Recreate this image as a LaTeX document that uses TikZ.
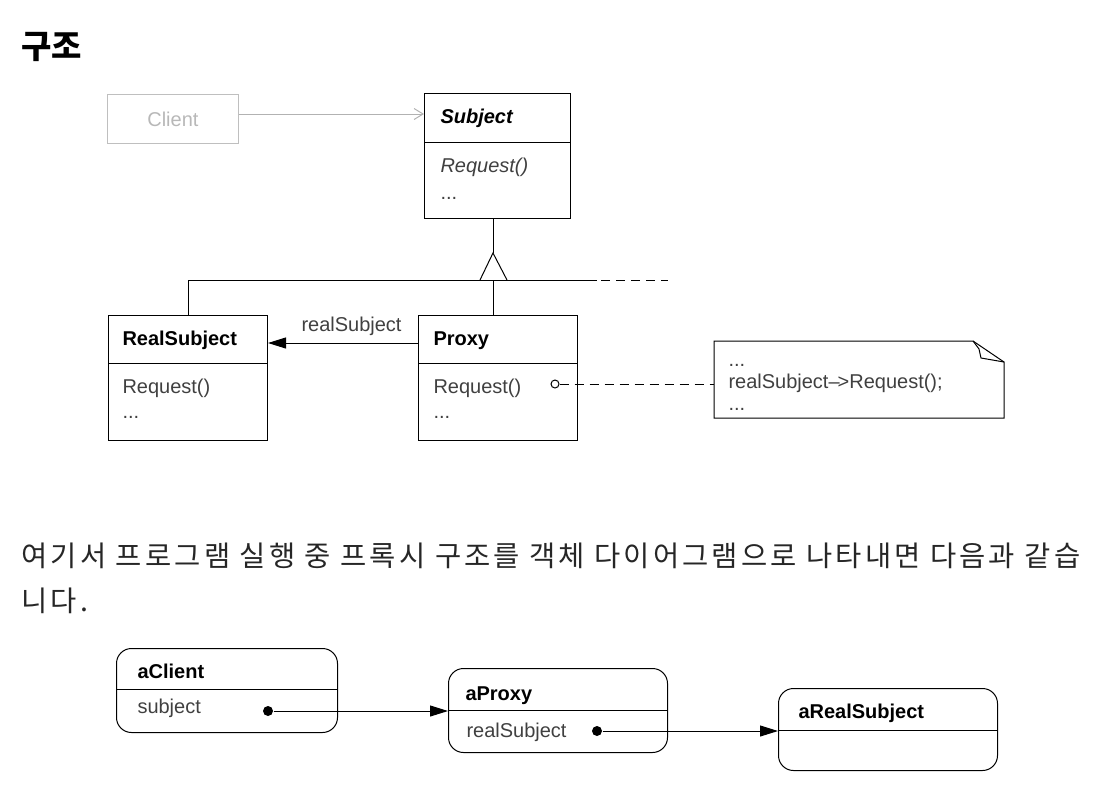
\documentclass[tikz,border=0pt]{standalone}
\usepackage{fontspec}
\setmainfont{Liberation Sans}
\newfontfamily\krfont{Noto Sans CJK KR}
\newfontfamily\krspaced[LetterSpace=11]{Noto Sans CJK KR}
\usepackage{tikz}
\usetikzlibrary{arrows.meta}

\tikzset{
  classbox/.style={draw, line width=1pt, inner sep=0pt, anchor=north west},
  objbox/.style={draw, line width=1pt, rounded corners=15pt, inner sep=0pt, anchor=north west},
  txt/.style={anchor=base west, inner sep=0pt, font=\fontsize{20}{24}\selectfont, text=black!75},
  btxt/.style={txt, font=\fontsize{20}{24}\selectfont\bfseries, text=black},
  krtxt/.style={anchor=base west, inner sep=0pt, font=\krspaced\fontsize{28.5}{34}\selectfont, text=black!85},
  dot/.style={circle, fill=black, inner sep=0pt, minimum size=10pt},
  navarrow/.style={-{Triangle[length=18pt,width=11pt]}},
}

\begin{document}
\begin{tikzpicture}[x=1pt, y=-1pt, line width=1pt]
\useasboundingbox (0,0) rectangle (1112,804);
% Title
\node[anchor=base west, inner sep=0pt, font=\krfont\bfseries\fontsize{33}{38}\selectfont] (title) at (21,58) {구조};
% Class diagram boxes
\node[classbox, draw=black!25, line width=0.8pt, minimum width=131pt, minimum height=49pt] (client) at (107,94) {};
\node[classbox, minimum width=146pt, minimum height=125pt] (subject) at (424,93) {};
\node[classbox, minimum width=159pt, minimum height=125pt] (realsubject) at (108,315) {};
\node[classbox, minimum width=159pt, minimum height=125pt] (proxy) at (418,315) {};
\draw (subject.west |- 0,142) -- (subject.east |- 0,142);
\draw (realsubject.west |- 0,363) -- (realsubject.east |- 0,363);
\draw (proxy.west |- 0,363) -- (proxy.east |- 0,363);
% Class texts
\node[anchor=base, inner sep=0pt, font=\fontsize{20}{24}\selectfont, text=black!28] (clientname) at (client.center |- 0,126) {Client};
\node[btxt, font=\fontsize{20}{24}\selectfont\bfseries\itshape] (subjectname) at (440,123) {Subject};
\node[txt, font=\fontsize{20}{24}\selectfont\itshape] (subjectop) at (440,172) {Request()};
\node[txt] (subjectmore) at (440,199) {...};
\node[btxt] (realname) at (122,345) {RealSubject};
\node[txt] (realop) at (122,393) {Request()};
\node[txt] (realmore) at (122,418) {...};
\node[btxt] (proxyname) at (433,345) {Proxy};
\node[txt] (proxyop) at (433,393) {Request()};
\node[txt] (proxymore) at (433,418) {...};
% Client uses Subject
\draw[black!30, -{Straight Barb[length=9pt,width=11pt]}] (client.east |- 0,114) -- (subject.west |- 0,114);
% Inheritance
\coordinate (apex) at (493,253);
\coordinate (joint) at (493,280);
\draw (apex |- subject.south) -- (apex);
\draw (480,280) -- (apex) -- (507,280);
\draw (realsubject.north |- joint) -- (597,280);
\draw[dashed, dash pattern=on 9pt off 6pt] (601,280) -- (668,280);
\draw (realsubject.north |- joint) -- (realsubject.north);
\draw (joint) -- (joint |- proxy.north);
% Association
\draw[navarrow] (proxy.west |- 0,343) -- (realsubject.east |- 0,343);
\node[txt] (assoclabel) at (301,331) {realSubject};
% Note
\node[inner sep=0pt, anchor=north west, minimum width=289pt, minimum height=76pt] (note) at (714,341) {};
\draw (note.north west) -- ([xshift=-31pt]note.north east) -- ([yshift=-21pt]note.north east) -- (note.south east) -- (note.south west) -- cycle;
\draw ([xshift=-31pt]note.north east) -- ([xshift=-25pt,yshift=-8pt]note.north east) -- ([xshift=-23pt,yshift=-17pt]note.north east) -- ([yshift=-21pt]note.north east);
\node[txt] (notemore) at (728,366) {...};
\node[txt] (notecall) at (728,388) {realSubject\textendash\kern-2pt>Request();};
\node[txt] (noteend) at (728,410) {...};
\node[circle, draw, inner sep=0pt, minimum size=8pt] (pcirc) at (555,384) {};
\draw[dashed, dash pattern=on 9pt off 6pt] (pcirc.east) -- (note.west |- pcirc);
% Korean text
\node[krtxt] (line1) at (21,566) {여기서 프로그램 실행 중 프록시 구조를 객체 다이어그램으로 나타내면 다음과 같습};
\node[krtxt] (line2) at (21,611) {니다.};
% Object diagram
\node[objbox, minimum width=221pt, minimum height=84pt] (aclient) at (116,648) {};
\node[objbox, minimum width=219pt, minimum height=84pt] (aproxy) at (448,668) {};
\node[objbox, minimum width=219pt, minimum height=82pt] (areal) at (778,688) {};
\draw (aclient.west |- 0,689) -- (aclient.east |- 0,689);
\draw (aproxy.west |- 0,710) -- (aproxy.east |- 0,710);
\draw (areal.west |- 0,730) -- (areal.east |- 0,730);
\node[btxt] (aclientname) at (137,678) {aClient};
\node[txt] (aclientfield) at (137,713) {subject};
\node[btxt] (aproxyname) at (465,700) {aProxy};
\node[txt] (aproxyfield) at (466,737) {realSubject};
\node[btxt] (arealname) at (798,718) {aRealSubject};
\node[dot] (cdot) at (268,711) {};
\node[dot] (pdot) at (597,731) {};
\draw[navarrow] (cdot) -- (aproxy.west |- cdot);
\draw[navarrow] (pdot) -- (areal.west |- pdot);
\end{tikzpicture}
\end{document}
